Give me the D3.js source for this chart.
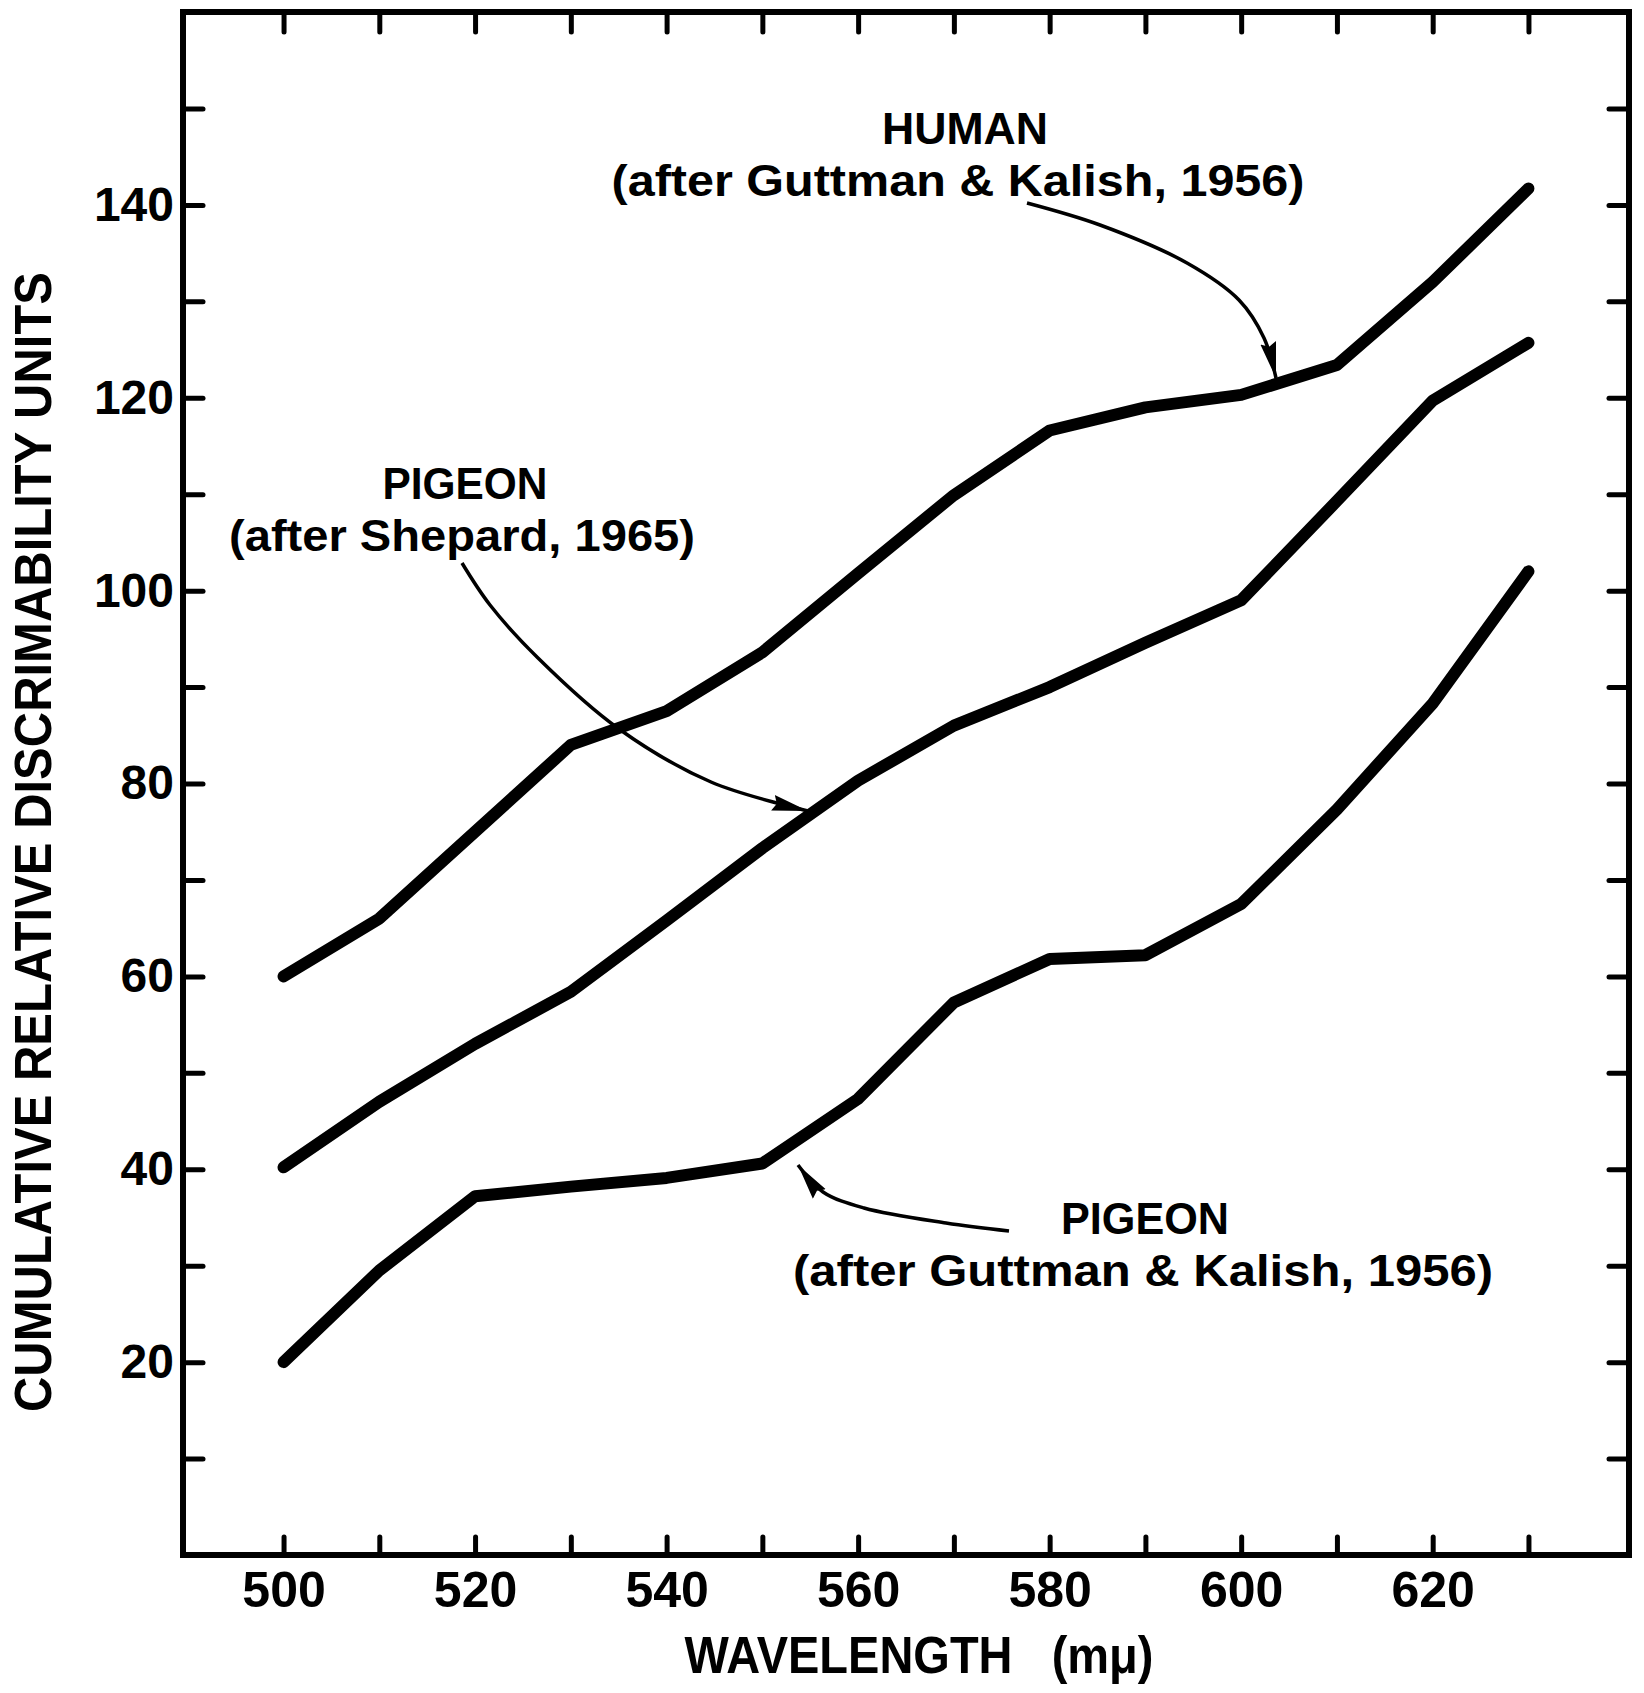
<!DOCTYPE html>
<html>
<head>
<meta charset="utf-8">
<script src="https://cdn.jsdelivr.net/npm/d3@7"></script>
<style>
  html, body { margin: 0; padding: 0; background: #fff; }
  svg { display: block; }
  text { font-family: "Liberation Sans", Arial, sans-serif; font-weight: bold; fill: #000; }
</style>
</head>
<body>
<svg id="chart" width="1644" height="1693"></svg>
<script>
// Wavelength samples (mμ)
const wavelengths = [500, 510, 520, 530, 540, 550, 560, 570, 580, 590, 600, 610, 620, 630];

// Cumulative relative discriminability units
const human      = [60, 66, 75, 84, 87.5, 93.6, 101.8, 109.9, 116.6, 119, 120.3, 123.4, 132, 141.7];
const pigeonShep = [40.2, 47, 53, 58.4, 65.8, 73.3, 80.3, 86, 90, 94.6, 99, 109.3, 119.7, 125.7];
const pigeonGK   = [20, 29.5, 37.2, 38.2, 39.1, 40.6, 47.3, 57.3, 61.8, 62.2, 67.5, 77.3, 88.3, 102];

// Axis ticks and labels
const xTicks = [500, 510, 520, 530, 540, 550, 560, 570, 580, 590, 600, 610, 620, 630];
const xLabels = [500, 520, 540, 560, 580, 600, 620];
const yTicks = [10, 20, 30, 40, 50, 60, 70, 80, 90, 100, 110, 120, 130, 140, 150];
const yLabels = [20, 40, 60, 80, 100, 120, 140];

const svg = d3.select("#chart");

const x = d3.scaleLinear().domain([489.5, 640.5]).range([183, 1629]);
const y = d3.scaleLinear().domain([0, 160]).range([1555, 12]);

// Frame
svg.append("rect")
  .attr("x", x.range()[0]).attr("y", y.range()[1])
  .attr("width", x.range()[1] - x.range()[0])
  .attr("height", y.range()[0] - y.range()[1])
  .attr("fill", "none").attr("stroke", "#000").attr("stroke-width", 6);

function styleAxis(g) {
  g.select(".domain").remove();
  g.selectAll(".tick line").attr("stroke", "#000").attr("stroke-width", 5).attr("stroke-linecap", "round");
  g.selectAll(".tick text").style("font-family", "'Liberation Sans', Arial, sans-serif").style("font-weight", "bold");
}

// Bottom axis with labels
svg.append("g")
  .attr("transform", `translate(0,${y(0)})`)
  .call(d3.axisBottom(x).tickValues(xTicks).tickSize(-18).tickPadding(16)
    .tickFormat(d => xLabels.includes(d) ? d : ""))
  .call(styleAxis)
  .call(g => g.selectAll(".tick text").attr("font-size", 50).attr("fill", "#000"));

// Top axis, ticks only
svg.append("g")
  .attr("transform", `translate(0,${y(160)})`)
  .call(d3.axisTop(x).tickValues(xTicks).tickSize(-20).tickFormat(""))
  .call(styleAxis);

// Left axis with labels
svg.append("g")
  .attr("transform", `translate(${x(489.5)},0)`)
  .call(d3.axisLeft(y).tickValues(yTicks).tickSize(-20).tickPadding(9)
    .tickFormat(d => yLabels.includes(d) ? d : ""))
  .call(styleAxis)
  .call(g => g.selectAll(".tick text").attr("font-size", 48).attr("fill", "#000"));

// Right axis, ticks only
svg.append("g")
  .attr("transform", `translate(${x(640.5)},0)`)
  .call(d3.axisRight(y).tickValues(yTicks).tickSize(-20).tickFormat(""))
  .call(styleAxis);

// Axis titles
svg.append("text")
  .attr("x", 919).attr("y", 1673)
  .attr("text-anchor", "middle").attr("font-size", 52)
  .style("white-space", "pre")
  .attr("textLength", 469).attr("lengthAdjust", "spacingAndGlyphs")
  .text("WAVELENGTH   (mμ)");

svg.append("text")
  .attr("transform", "translate(51,842) rotate(-90)")
  .attr("text-anchor", "middle").attr("font-size", 52)
  .attr("textLength", 1140).attr("lengthAdjust", "spacingAndGlyphs")
  .text("CUMULATIVE RELATIVE DISCRIMABILITY UNITS");

// Curves
const line = d3.line()
  .x((d, i) => x(wavelengths[i]))
  .y(d => y(d));

[human, pigeonShep, pigeonGK].forEach(series => {
  svg.append("path")
    .datum(series)
    .attr("d", line)
    .attr("fill", "none")
    .attr("stroke", "#000")
    .attr("stroke-width", 12)
    .attr("stroke-linejoin", "round")
    .attr("stroke-linecap", "round");
});

// Arrowhead
svg.append("defs").append("marker")
  .attr("id", "head")
  .attr("markerUnits", "userSpaceOnUse")
  .attr("viewBox", "0 -9 38 18")
  .attr("refX", 36).attr("refY", 0)
  .attr("markerWidth", 38).attr("markerHeight", 18)
  .attr("orient", "auto")
  .append("path")
  .attr("d", "M0,-8 L36,0 L0,8 L4,0 Z")
  .attr("fill", "#000");

// Annotation labels with leader arrows
const notes = [
  { lines: [
      { text: "HUMAN", x: 965, y: 144, len: 166 },
      { text: "(after Guttman & Kalish, 1956)", x: 958, y: 196, len: 693 }
    ],
    arrow: [[1027, 203], [1100, 225], [1187, 263], [1239, 300], [1264, 338], [1276, 378]] },
  { lines: [
      { text: "PIGEON", x: 465, y: 499, len: 165 },
      { text: "(after Shepard, 1965)", x: 462, y: 551, len: 466 }
    ],
    arrow: [[462, 563], [490, 605], [538, 658], [619, 729], [711, 782], [808, 811]] },
  { lines: [
      { text: "PIGEON", x: 1145, y: 1234, len: 168 },
      { text: "(after Guttman & Kalish, 1956)", x: 1143, y: 1286, len: 700 }
    ],
    arrow: [[1009, 1231], [946, 1223], [864, 1208], [823, 1192], [798, 1165]] }
];

const arrowLine = d3.line().curve(d3.curveCatmullRom.alpha(0.5));

notes.forEach(n => {
  n.lines.forEach(l => {
    svg.append("text")
      .attr("x", l.x).attr("y", l.y)
      .attr("text-anchor", "middle").attr("font-size", 44)
      .attr("textLength", l.len).attr("lengthAdjust", "spacingAndGlyphs")
      .text(l.text);
  });
  svg.append("path")
    .attr("d", arrowLine(n.arrow))
    .attr("fill", "none")
    .attr("stroke", "#000")
    .attr("stroke-width", 3.5)
    .attr("marker-end", "url(#head)");
});
</script>
</body>
</html>
